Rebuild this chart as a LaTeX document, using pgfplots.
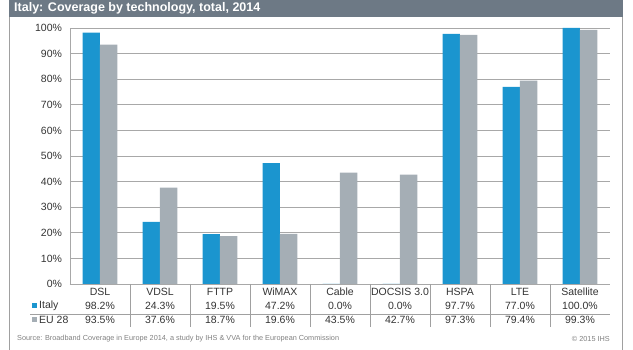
\documentclass[border=0pt]{standalone}
\usepackage{pgfplots}
\pgfplotsset{compat=1.18}
\usepackage{fontspec}
\setmainfont{Liberation Sans}
\definecolor{itblue}{HTML}{1B95CF}
\definecolor{eugray}{HTML}{A5AEB5}
\definecolor{titlebar}{HTML}{6D7985}
\definecolor{gridc}{HTML}{A8A8A8}
\definecolor{framec}{HTML}{A0A0A0}
\definecolor{txt}{HTML}{333333}
\begin{document}
\begin{tikzpicture}[x=1pt,y=1pt]
\path[use as bounding box] (0,0) rectangle (633,350);
\fill[titlebar] (9,333) rectangle (623,350);
\draw[framec, line width=0.8pt] (9.5,333) -- (9.5,0);
\draw[framec, line width=0.8pt] (622.5,333) -- (622.5,0);
\node[anchor=west, text=white, inner sep=0pt, font=\bfseries\fontsize{12.5}{14}\selectfont] at (14,341.5) {Italy: Coverage by technology, total, 2014};
\begin{axis}[
  at={(70pt,66pt)}, anchor=south west, scale only axis,
  width=540pt, height=256pt,
  xmin=-0.5, xmax=8.5, ymin=0, ymax=100,
  ybar=0pt, bar width=17.3pt,
  axis x line*=bottom, axis y line*=left,
  axis line style={-, draw=gridc, line width=0.8pt},
  xtick=\empty,
  ytick={0,10,...,100},
  yticklabel={\pgfmathprintnumber{\tick}\%},
  /pgf/number format/assume math mode=true,
  yticklabel style={font=\fontsize{10.5}{12}\selectfont, text=txt, xshift=-4.5pt},
  ymajorgrids, grid style={draw=gridc, line width=0.8pt},
  major tick length=0pt,
  clip=false,
]
\addplot[fill=itblue, draw=none] coordinates {(0,98.2)(1,24.3)(2,19.5)(3,47.2)(4,0)(5,0)(6,97.7)(7,77.0)(8,100.0)};
\addplot[fill=eugray, draw=none] coordinates {(0,93.5)(1,37.6)(2,18.7)(3,19.6)(4,43.5)(5,42.7)(6,97.3)(7,79.4)(8,99.3)};
\end{axis}
\foreach \x in {130,190,...,550} \draw[framec, line width=0.8pt] (\x,66) -- (\x,23);
\draw[framec, line width=0.8pt] (30,36) -- (610,36);
\foreach \n/\a/\b [count=\i from 0] in {DSL/98.2/93.5, VDSL/24.3/37.6, FTTP/19.5/18.7, WiMAX/47.2/19.6, Cable/0.0/43.5, DOCSIS 3.0/0.0/42.7, HSPA/97.7/97.3, LTE/77.0/79.4, Satellite/100.0/99.3} {
  \node[font=\fontsize{10.5}{12}\selectfont, text=txt] at ({100+60*\i},58) {\n};
  \node[font=\fontsize{10.5}{12}\selectfont, text=txt] at ({100+60*\i},44.5) {\a\%};
  \node[font=\fontsize{10.5}{12}\selectfont, text=txt] at ({100+60*\i},30) {\b\%};
}
\fill[itblue] (32,42) rectangle (37,47);
\node[anchor=west, inner sep=0pt, font=\fontsize{10.5}{12}\selectfont, text=txt] at (39,44.5) {Italy};
\fill[eugray] (32,27.5) rectangle (37,32.5);
\node[anchor=west, inner sep=0pt, font=\fontsize{10.5}{12}\selectfont, text=txt] at (39,30) {EU 28};
\node[anchor=west, inner sep=0pt, font=\fontsize{7.3}{9}\selectfont, text=gray] at (17,11) {Source: Broadband Coverage in Europe 2014, a study by IHS \& VVA for the European Commission};
\node[anchor=east, inner sep=0pt, font=\fontsize{7.3}{9}\selectfont, text=gray] at (610,11) {© 2015 IHS};
\end{tikzpicture}
\end{document}
